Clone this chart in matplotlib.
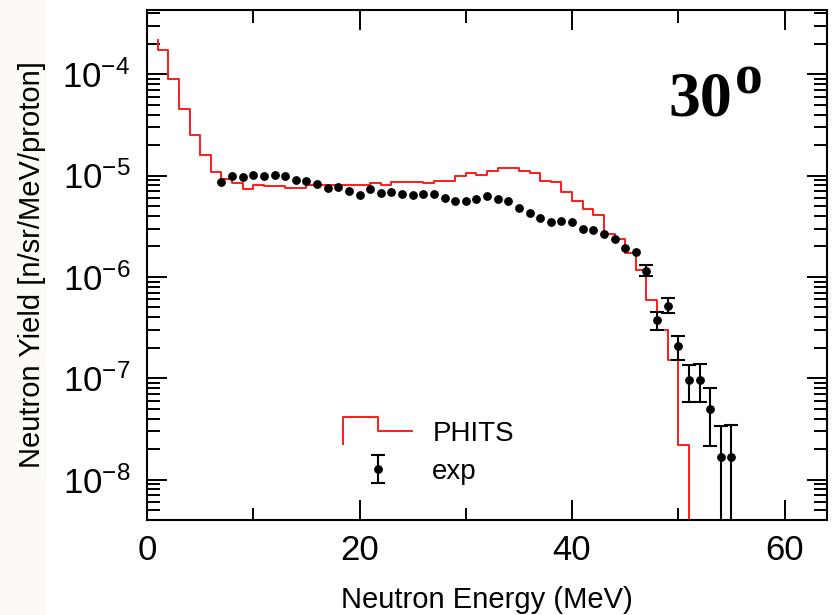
import numpy as np
import matplotlib
matplotlib.use("Agg")
import matplotlib.pyplot as plt
from matplotlib.lines import Line2D
from matplotlib.legend_handler import HandlerBase
from matplotlib.patches import Rectangle
from matplotlib.ticker import MultipleLocator, LogLocator, NullFormatter

plt.rcParams['font.family'] = ['Liberation Sans', 'DejaVu Sans']
plt.rcParams['mathtext.fontset'] = 'custom'
plt.rcParams['mathtext.rm'] = 'Liberation Sans'
plt.rcParams['mathtext.it'] = 'Liberation Sans:italic'
plt.rcParams['mathtext.bf'] = 'Liberation Sans:bold'

# PHITS histogram, 1 MeV bins from 1 to 51 MeV
phits_start = 2.16e-4
phits_edges = np.arange(1, 52)
phits_yield = [1.72e-4, 8.93e-5, 4.52e-5, 2.51e-5, 1.59e-5, 1.08e-5, 9.24e-6, 8.44e-6, 7.36e-6, 8.05e-6,
               7.88e-6, 7.88e-6, 7.53e-6, 7.53e-6, 8.05e-6, 8.05e-6, 8.05e-6, 8.05e-6, 8.05e-6, 8.05e-6,
               8.44e-6, 8.05e-6, 8.63e-6, 8.63e-6, 8.63e-6, 8.44e-6, 8.83e-6, 8.83e-6, 9.89e-6, 1.06e-5,
               1.01e-5, 1.11e-5, 1.19e-5, 1.19e-5, 1.11e-5, 1.06e-5, 8.83e-6, 8.63e-6, 6.87e-6, 5.61e-6,
               4.68e-6, 4.08e-6, 2.65e-6, 2.37e-6, 1.72e-6, 1.17e-6, 5.93e-7, 3.00e-7, 1.52e-7, 2.21e-8]

# experimental points
exp_energy = list(range(7, 56))
exp_yield = [8.63e-6, 9.89e-6, 9.66e-6, 1.01e-5, 9.89e-6, 1.01e-5, 9.89e-6, 9.03e-6, 8.83e-6, 8.24e-6,
             7.53e-6, 7.71e-6, 7.03e-6, 6.42e-6, 7.36e-6, 6.73e-6, 6.87e-6, 6.58e-6, 6.42e-6, 6.58e-6,
             6.58e-6, 6.00e-6, 5.61e-6, 5.61e-6, 5.87e-6, 6.28e-6, 5.87e-6, 5.61e-6, 4.79e-6, 4.27e-6,
             3.81e-6, 3.48e-6, 3.56e-6, 3.48e-6, 2.97e-6, 2.90e-6, 2.65e-6, 2.37e-6, 1.93e-6, 1.76e-6,
             1.15e-6, 3.77e-7, 5.18e-7, 2.09e-7, 9.66e-8, 9.66e-8, 5.01e-8, 1.69e-8, 1.69e-8]
nan = np.nan
# lower / upper ends of the error bars (nan = bar hidden behind the dot)
exp_low = [nan] * 40 + [1.02e-6, 3.00e-7, 4.41e-7, 1.52e-7, 5.86e-8, 5.86e-8, 2.16e-8, 0.0, 0.0]
exp_high = [nan] * 40 + [1.31e-6, 4.52e-7, 6.21e-7, 2.62e-7, 1.36e-7, 1.39e-7, 8.05e-8, 3.40e-8, 3.48e-8]


class StepHandler(HandlerBase):
    def create_artists(self, legend, orig_handle, xdescent, ydescent,
                       width, height, fontsize, trans):
        yc = height / 2 - ydescent
        h = height * 1.4
        xs = np.array([0, 0, 0.5, 0.5, 1.0]) * width - xdescent
        ys = yc + h * np.array([-0.5, 0.5, 0.5, 0.0, 0.0])
        line = Line2D(xs, ys, color=orig_handle.get_color(),
                      lw=orig_handle.get_linewidth())
        line.set_transform(trans)
        return [line]


fig = plt.figure(figsize=(8.33, 6.15), dpi=100)
fig.patches.append(Rectangle((0, 0), 45 / 833, 1, transform=fig.transFigure,
                             color='#fdfaf5', zorder=-10))
ax = fig.add_axes([0.1765, 0.1545, 0.8163, 0.8293])

# PHITS step line
seq = np.r_[phits_start, phits_yield, 0.0]
xs = np.repeat(phits_edges, 2)
ys = np.repeat(seq, 2)[1:-1]
phits_line, = ax.plot(xs, ys, color='#ff1a1a', lw=1.4, label='PHITS')

# experiment
e = np.array(exp_energy, dtype=float)
y = np.array(exp_yield)
lo = np.array(exp_low)
hi = np.array(exp_high)
has_err = ~np.isnan(lo)
ax.plot(e[~has_err], y[~has_err], 'o', color='black', ms=5.3, zorder=3)
eb = ax.errorbar(e[has_err], y[has_err],
                 yerr=[y[has_err] - lo[has_err], hi[has_err] - y[has_err]],
                 fmt='o', color='black', ms=5.3, elinewidth=1.5, capsize=5,
                 capthick=1.5, label='exp', zorder=3)

ax.set_yscale('log')
ax.set_xlim(0, 64)
ax.set_ylim(4e-9, 4.3e-4)

ax.xaxis.set_major_locator(MultipleLocator(20))
ax.xaxis.set_minor_locator(MultipleLocator(10))
ax.yaxis.set_major_locator(LogLocator(base=10, numticks=20))
ax.yaxis.set_minor_locator(LogLocator(base=10, subs=np.arange(2, 10), numticks=20))
ax.yaxis.set_minor_formatter(NullFormatter())

ax.tick_params(which='both', direction='in', top=True, right=True, width=1.4, colors='black')
ax.tick_params(which='major', length=14.5, labelsize=25)
ax.tick_params(axis='x', which='minor', length=9)
ax.tick_params(axis='y', which='minor', length=9.5)
ax.tick_params(axis='x', which='major', pad=10)
ax.tick_params(axis='y', which='major', pad=12)
for s in ax.spines.values():
    s.set_linewidth(1.5)

ax.set_xlabel('Neutron Energy (MeV)', fontsize=21, labelpad=14)
ax.set_ylabel('Neutron Yield [n/sr/MeV/proton]', fontsize=21, labelpad=12)

ax.legend([phits_line, eb], ['PHITS', 'exp'], handler_map={phits_line: StepHandler()},
          loc='upper left', bbox_to_anchor=(0.288, 0.195), frameon=False, fontsize=20,
          handlelength=2.5, handletextpad=0.72, labelspacing=0.45,
          borderpad=0, borderaxespad=0)

fig.text(668 / 833, 1 - 116 / 615, '30', fontsize=46, fontweight='bold',
         family='Liberation Serif', ha='left', va='baseline')
fig.text(735 / 833, 1 - 93 / 615, 'o', fontsize=40, fontweight='bold',
         family='Liberation Serif', ha='left', va='baseline')

fig.savefig('out.png', dpi=100)
